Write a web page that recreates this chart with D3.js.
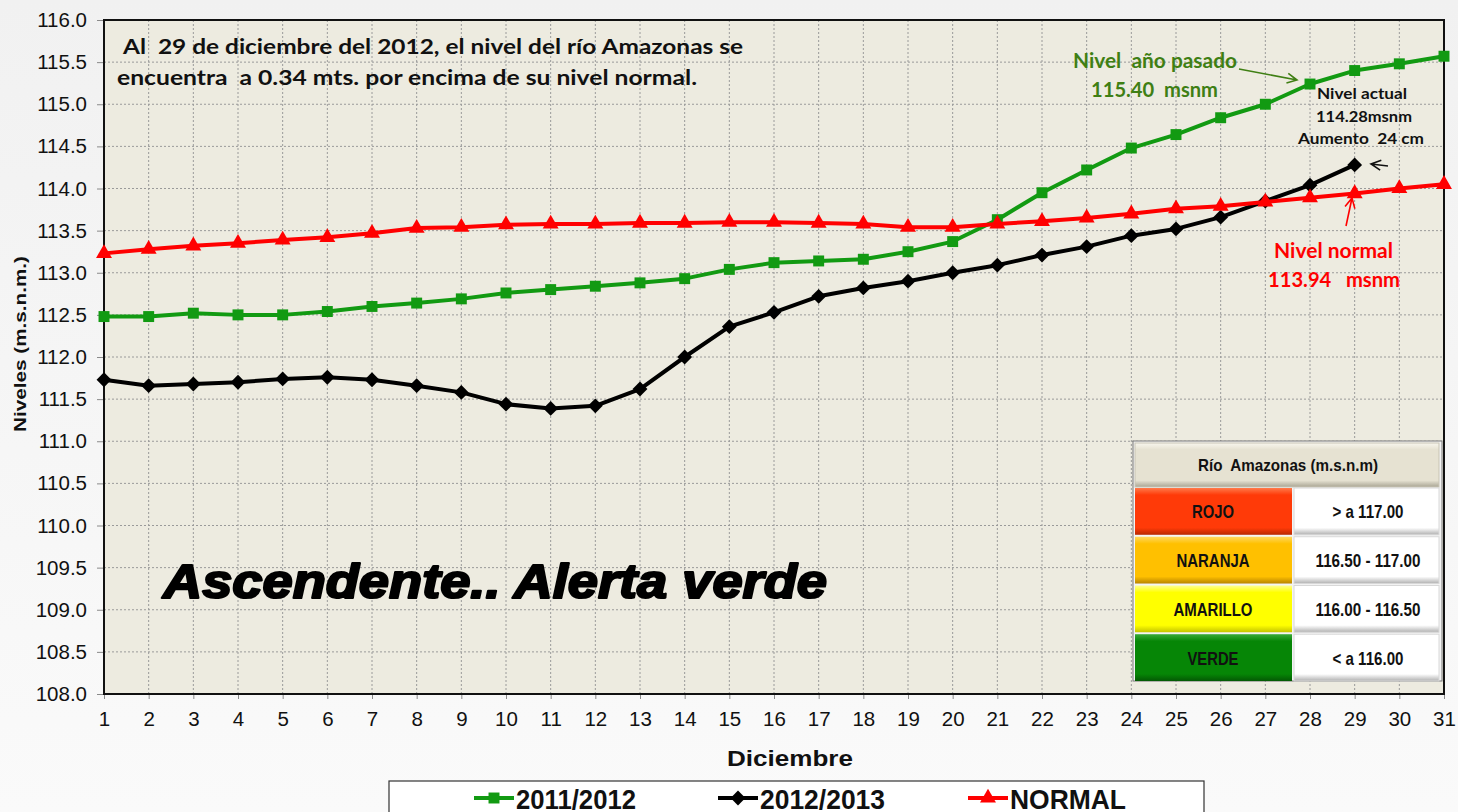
<!DOCTYPE html>
<html>
<head>
<meta charset="utf-8">
<script src="https://cdn.jsdelivr.net/npm/d3@7/dist/d3.min.js"></script>
<style>
  body { margin: 0; background: #f3f3f3; }
  svg { display: block; }
  text { white-space: pre; }
</style>
</head>
<body>
<svg id="chart" width="1458" height="812"></svg>
<script>
const days = d3.range(1, 32);

const serie2011 = [112.48, 112.48, 112.52, 112.50, 112.50, 112.54, 112.60, 112.64, 112.69, 112.76,
  112.80, 112.84, 112.88, 112.93, 113.04, 113.12, 113.14, 113.16, 113.25, 113.37,
  113.63, 113.95, 114.22, 114.48, 114.64, 114.84, 115.00, 115.24, 115.40, 115.48, 115.57];

const serie2012 = [111.73, 111.66, 111.68, 111.70, 111.74, 111.76, 111.73, 111.66, 111.58, 111.44,
  111.39, 111.42, 111.62, 112.00, 112.36, 112.53, 112.72, 112.82, 112.90, 113.00,
  113.09, 113.21, 113.31, 113.44, 113.52, 113.66, 113.85, 114.04, 114.28];

const serieNormal = [113.23, 113.28, 113.32, 113.35, 113.39, 113.42, 113.47, 113.53, 113.54, 113.57,
  113.58, 113.58, 113.59, 113.59, 113.60, 113.60, 113.59, 113.58, 113.54, 113.54,
  113.58, 113.61, 113.65, 113.70, 113.76, 113.79, 113.84, 113.89, 113.94, 114.00, 114.05];

const yTicks = d3.range(108, 116.01, 0.5);

const alertLevels = ["ROJO", "NARANJA", "AMARILLO", "VERDE"];
const alertRanges = ["> a 117.00", "116.50 - 117.00", "116.00 - 116.50", "< a 116.00"];
const alertColors = [["#ff7a4a", "#ff3a08", "#b82800"], ["#ffd860", "#ffc000", "#b88400"],
  ["#ffff90", "#ffff00", "#c4c400"], ["#38aa38", "#068606", "#035803"]];

const seriesDefs = [
  { name: "2011/2012", values: serie2011, color: "#129a12", shape: "square" },
  { name: "2012/2013", values: serie2012, color: "#000000", shape: "diamond" },
  { name: "NORMAL", values: serieNormal, color: "#ff0000", shape: "triangle" }
];

const svg = d3.select("#chart");
const margin = { top: 20, right: 14, bottom: 118, left: 104 };
const width = 1458, height = 812;
const innerWidth = width - margin.left - margin.right;
const innerHeight = height - margin.top - margin.bottom;

const sans = "'Liberation Sans', Arial, sans-serif";
const calibri = "Lato, 'Open Sans', sans-serif";

// text with a fixed drawn width (the source fonts are not installed)
function fitText(parent, x, y, str, opts) {
  return parent.append("text")
    .attr("x", x).attr("y", y)
    .attr("text-anchor", opts.anchor || "start")
    .attr("font-family", opts.family || sans)
    .attr("font-weight", opts.weight || "bold")
    .attr("font-style", opts.style || "normal")
    .attr("font-size", opts.size)
    .attr("fill", opts.fill || "#111")
    .attr("textLength", opts.len)
    .attr("lengthAdjust", "spacingAndGlyphs")
    .text(str);
}

const defs = svg.append("defs");
const bg = defs.append("linearGradient").attr("id", "bg").attr("x1", 0).attr("y1", 0).attr("x2", 0).attr("y2", 1);
bg.append("stop").attr("offset", "0%").attr("stop-color", "#f1f1f1");
bg.append("stop").attr("offset", "100%").attr("stop-color", "#fafafa");
svg.append("rect").attr("width", width).attr("height", height).attr("fill", "url(#bg)");

const g = svg.append("g").attr("transform", `translate(${margin.left},${margin.top})`);

const x = d3.scaleLinear().domain([1, 31]).range([0, innerWidth]);
const y = d3.scaleLinear().domain([108, 116]).range([innerHeight, 0]);

g.append("rect").attr("width", innerWidth).attr("height", innerHeight).attr("fill", "#edebe0");

// grid
g.append("g").selectAll("line").data(days.slice(1, -1)).join("line")
  .attr("x1", d => x(d)).attr("x2", d => x(d)).attr("y1", 0).attr("y2", innerHeight)
  .attr("stroke", "#9a9a9a").attr("stroke-width", 1).attr("stroke-dasharray", "2,2");
g.append("g").selectAll("line").data(yTicks.slice(1, -1)).join("line")
  .attr("x1", 0).attr("x2", innerWidth).attr("y1", d => y(d)).attr("y2", d => y(d))
  .attr("stroke", "#9a9a9a").attr("stroke-width", 1).attr("stroke-dasharray", "2,2");

// axes
const yAxis = g.append("g")
  .call(d3.axisLeft(y).tickValues(yTicks).tickFormat(d3.format(".1f")).tickSize(7).tickPadding(10));
const xAxis = g.append("g").attr("transform", `translate(0,${innerHeight})`)
  .call(d3.axisBottom(x).tickValues(days).tickFormat(d3.format("d")).tickSize(5).tickPadding(12));
[yAxis, xAxis].forEach(a => {
  a.select(".domain").remove();
  a.selectAll("line").attr("stroke", "#8a8a8a");
  a.selectAll("text").attr("font-family", sans).attr("font-size", 20.5).attr("fill", "#111");
});

g.append("rect").attr("width", innerWidth).attr("height", innerHeight)
  .attr("fill", "none").attr("stroke", "#111").attr("stroke-width", 2);

// axis titles
fitText(svg, 790, 766, "Diciembre", { anchor: "middle", size: 22, len: 126 });
fitText(svg.append("g").attr("transform", "translate(26,344) rotate(-90)"), 0, 0,
  "Niveles (m.s.n.m.)", { anchor: "middle", size: 17, len: 176 });

// series
const symbolFor = shape => {
  if (shape === "square") return d3.symbol(d3.symbolSquare, 120)();
  if (shape === "diamond") return d3.symbol(d3.symbolSquare, 110)();
  return d3.symbol(d3.symbolTriangle, 110)();
};
const rotFor = shape => shape === "diamond" ? " rotate(45)" : "";

seriesDefs.forEach(s => {
  const pts = s.values.map((v, i) => [days[i], v]);
  g.append("path").datum(pts)
    .attr("fill", "none").attr("stroke", s.color).attr("stroke-width", 4)
    .attr("stroke-linejoin", "round")
    .attr("d", d3.line().x(d => x(d[0])).y(d => y(d[1])));
  g.append("g").selectAll("path").data(pts).join("path")
    .attr("transform", d => `translate(${x(d[0])},${y(d[1])})${rotFor(s.shape)}`)
    .attr("d", symbolFor(s.shape)).attr("fill", s.color);
});

// annotations
fitText(svg, 123, 54, "Al  29 de diciembre del 2012, el nivel del río Amazonas se",
  { family: calibri, size: 21, len: 620 });
fitText(svg, 117, 85, "encuentra  a 0.34 mts. por encima de su nivel normal.",
  { family: calibri, size: 21, len: 580 });

const green = "#3f7f14";
fitText(svg, 1073, 68, "Nivel  año pasado", { family: calibri, size: 20, len: 164, fill: green });
fitText(svg, 1091, 97, "115.40  msnm", { family: calibri, size: 20, len: 127, fill: green });

fitText(svg, 1317, 99, "Nivel actual", { family: calibri, size: 15.5, len: 90 });
fitText(svg, 1316, 122, "114.28msnm", { family: calibri, size: 15.5, len: 96 });
fitText(svg, 1298, 144, "Aumento  24 cm", { family: calibri, size: 15.5, len: 126 });

fitText(svg, 1274, 258, "Nivel normal", { family: calibri, size: 20, len: 119, fill: "#ff0000" });
fitText(svg, 1268, 287, "113.94   msnm", { family: calibri, size: 20, len: 132, fill: "#ff0000" });

function arrow(x1, y1, x2, y2, color) {
  const ang = Math.atan2(y2 - y1, x2 - x1);
  const len = 11;
  const a1 = ang + Math.PI * 0.85, a2 = ang - Math.PI * 0.85;
  svg.append("path")
    .attr("d", `M${x1},${y1}L${x2},${y2}M${x2 + len * Math.cos(a1)},${y2 + len * Math.sin(a1)}L${x2},${y2}L${x2 + len * Math.cos(a2)},${y2 + len * Math.sin(a2)}`)
    .attr("fill", "none").attr("stroke", color).attr("stroke-width", 1.6);
}
arrow(1239, 69, 1297, 80, green);
arrow(1388, 166, 1371, 164, "#111");
arrow(1346, 226, 1352, 198, "#ff0000");

fitText(svg, 163, 598, "Ascendente.. Alerta verde",
  { size: 48, style: "italic", len: 664, fill: "#000" })
  .attr("stroke", "#000").attr("stroke-width", 2.2).attr("stroke-linejoin", "round");

// alert table
const tbl = svg.append("g");
tbl.append("rect").attr("x", 1133).attr("y", 441).attr("width", 309).attr("height", 240)
  .attr("fill", "#f4f4f4").attr("stroke", "#777").attr("stroke-width", 1);

function bevel(id, stops) {
  const lg = defs.append("linearGradient").attr("id", id).attr("x1", 0).attr("y1", 0).attr("x2", 0).attr("y2", 1);
  lg.append("stop").attr("offset", "0%").attr("stop-color", stops[0]);
  lg.append("stop").attr("offset", "15%").attr("stop-color", stops[1]);
  lg.append("stop").attr("offset", "85%").attr("stop-color", stops[1]);
  lg.append("stop").attr("offset", "100%").attr("stop-color", stops[2]);
}
bevel("hdr", ["#f8f6ee", "#e6e2d2", "#a9a594"]);
bevel("wht", ["#ffffff", "#ffffff", "#b0b0b0"]);
alertColors.forEach((c, i) => bevel("al" + i, c));

tbl.append("rect").attr("x", 1135).attr("y", 443).attr("width", 304).attr("height", 44)
  .attr("fill", "url(#hdr)").attr("stroke", "#c8c4b4");
fitText(tbl, 1198, 471, "Río  Amazonas (m.s.n.m)", { size: 17, len: 180 });

const rowY = d3.scaleBand().domain(alertLevels).range([488, 681]).paddingInner(0.04);
const leftLen = { ROJO: 42, NARANJA: 73, AMARILLO: 79, VERDE: 51 };
const rightLen = [71, 105, 105, 71];
alertLevels.forEach((lvl, i) => {
  const ry = rowY(lvl), rh = rowY.bandwidth();
  tbl.append("rect").attr("x", 1135).attr("y", ry).attr("width", 157).attr("height", rh)
    .attr("fill", `url(#al${i})`);
  tbl.append("rect").attr("x", 1294).attr("y", ry).attr("width", 145).attr("height", rh)
    .attr("fill", "url(#wht)").attr("stroke", "#d8d8d8");
  fitText(tbl, 1213, ry + rh / 2 + 7, lvl, { anchor: "middle", size: 19, len: leftLen[lvl] });
  fitText(tbl, 1368, ry + rh / 2 + 7, alertRanges[i], { anchor: "middle", size: 19, len: rightLen[i] });
});

// legend
const legend = svg.append("g");
legend.append("rect").attr("x", 389).attr("y", 781).attr("width", 815).attr("height", 40)
  .attr("fill", "#fff").attr("stroke", "#333").attr("stroke-width", 1.2);
const legendX = [474, 718, 968];
const legendLen = [120, 125, 116];
seriesDefs.forEach((s, i) => {
  const lx = legendX[i];
  legend.append("line").attr("x1", lx).attr("x2", lx + 40).attr("y1", 798).attr("y2", 798)
    .attr("stroke", s.color).attr("stroke-width", 4);
  legend.append("path").attr("transform", `translate(${lx + 20},798)${rotFor(s.shape)}`)
    .attr("d", symbolFor(s.shape)).attr("fill", s.color);
  fitText(legend, lx + 42, 809, s.name, { size: 28, len: legendLen[i] });
});
</script>
</body>
</html>
